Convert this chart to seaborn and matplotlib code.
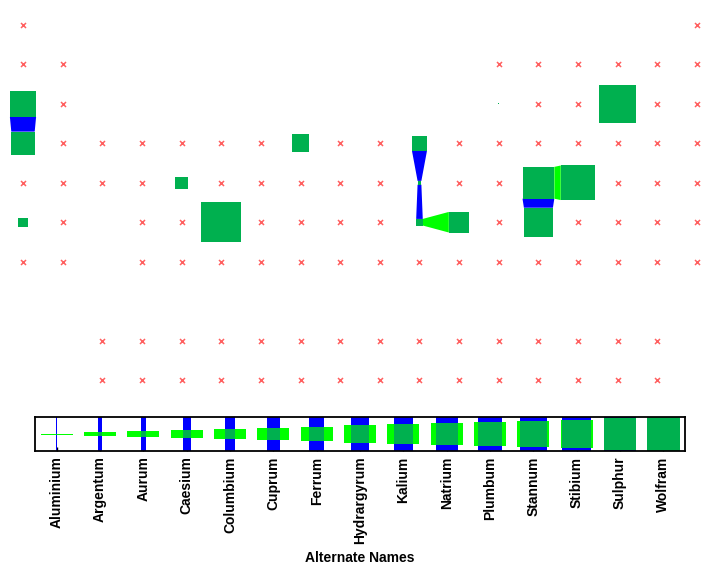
import numpy as np
import pandas as pd
import matplotlib
matplotlib.use("Agg")
import matplotlib.pyplot as plt
import seaborn as sns

# ---------------- data ----------------
# periodic-table layout: symbols per display row and their group (column)
row_symbols = {
    1: ["H", "He"],
    2: ["Li", "Be", "B", "C", "N", "O", "F", "Ne"],
    3: ["Na", "Mg", "Al", "Si", "P", "S", "Cl", "Ar"],
    4: ["K", "Ca", "Sc", "Ti", "V", "Cr", "Mn", "Fe", "Co", "Ni", "Cu", "Zn",
        "Ga", "Ge", "As", "Se", "Br", "Kr"],
    5: ["Rb", "Sr", "Y", "Zr", "Nb", "Mo", "Tc", "Ru", "Rh", "Pd", "Ag", "Cd",
        "In", "Sn", "Sb", "Te", "I", "Xe"],
    6: ["Cs", "Ba", "Hf", "Ta", "W", "Re", "Os", "Ir", "Pt", "Au", "Hg",
        "Tl", "Pb", "Bi", "Po", "At", "Rn"],
    7: ["Fr", "Ra", "Rf", "Db", "Sg", "Bh", "Hs", "Mt", "Ds", "Rg", "Cn",
        "Nh", "Fl", "Mc", "Lv", "Ts", "Og"],
    9: ["La", "Ce", "Pr", "Nd", "Pm", "Sm", "Eu", "Gd", "Tb", "Dy", "Ho",
        "Er", "Tm", "Yb", "Lu"],
    10: ["Ac", "Th", "Pa", "U", "Np", "Pu", "Am", "Cm", "Bk", "Cf", "Es",
         "Fm", "Md", "No", "Lr"],
}
row_groups = {
    1: [1, 18],
    2: [1, 2, 13, 14, 15, 16, 17, 18],
    3: [1, 2, 13, 14, 15, 16, 17, 18],
    4: list(range(1, 19)),
    5: list(range(1, 19)),
    6: [1, 2] + list(range(4, 19)),
    7: [1, 2] + list(range(4, 19)),
    9: list(range(3, 18)),
    10: list(range(3, 18)),
}

alt_names = ["Aluminium", "Argentum", "Aurum", "Caesium", "Columbium", "Cuprum",
             "Ferrum", "Hydrargyrum", "Kalium", "Natrium", "Plumbum", "Stannum",
             "Stibium", "Sulphur", "Wolfram"]
alt_symbols = ["Al", "Ag", "Au", "Cs", "Nb", "Cu", "Fe", "Hg", "K", "Na", "Pb",
               "Sn", "Sb", "S", "W"]
alt_rank = [0, 1, 2, 3, 4, 5, 6, 7, 8, 9, 10, 11, 12, 13, 14]

# ---------------- tables ----------------
recs = []
for r, syms in row_symbols.items():
    for s, g in zip(syms, row_groups[r]):
        recs.append((s, g, r))
elements = pd.DataFrame(recs, columns=["symbol", "group", "row"])
alt = pd.DataFrame({"name": alt_names, "symbol": alt_symbols, "rank": alt_rank})
alt = alt.merge(elements, on="symbol")
plain = elements[~elements["symbol"].isin(alt_symbols)]

GREEN = "#00b04f"
BLUE = "#0000ff"
LIME = "#00ff00"
RED = "#ff3838"


def side_px(rank):
    return 2.8 * rank + 1.0


LEG_SCALE = 0.83

# ---------------- figure ----------------
sns.set_theme(style="white")
plt.rcParams["font.family"] = ["Liberation Sans", "DejaVu Sans"]
plt.rcParams["text.color"] = "black"
plt.rcParams["axes.labelcolor"] = "black"
plt.rcParams["xtick.color"] = "black"
plt.rcParams["xtick.labelcolor"] = "black"

W, H = 720, 568
fig = plt.figure(figsize=(W / 100, H / 100), dpi=100)
fig.patch.set_facecolor("white")

ax = fig.add_axes([0, 168 / H, 1, 400 / H])
XL = (0.42, 18.58)
YL = (10.507, 0.366)
ax.set_xlim(*XL)
ax.set_ylim(*YL)
ux = W / (XL[1] - XL[0])           # px per data unit, x
uy = 400 / (YL[0] - YL[1])         # px per data unit, y

# red crosses for elements without an alternate name
sns.scatterplot(data=plain, x="group", y="row", marker="x", color=RED,
                s=13, linewidth=1.1, alpha=0.8, legend=False, ax=ax)

# connectors between adjacent elements with alternate names
pos = {row.symbol: (row.group, row.row, side_px(row.rank)) for row in alt.itertuples()}
for a in alt_symbols:
    ga, ra, sa = pos[a]
    for b in alt_symbols:
        gb, rb, sb = pos[b]
        if ga == gb and rb == ra + 1:       # vertical neighbour -> blue
            ha, hb = sa / 2 / ux, sb / 2 / ux
            ya, yb = ra + sa / 2 / uy, rb - sb / 2 / uy
            ax.fill([ga - ha, ga + ha, gb + hb, gb - hb], [ya, ya, yb, yb],
                    color=BLUE, lw=0, zorder=2)
        if ra == rb and gb == ga + 1:       # horizontal neighbour -> lime
            va, vb = sa / 2 / uy, sb / 2 / uy
            xa, xb = ga + sa / 2 / ux, gb - sb / 2 / ux
            ax.fill([xa, xa, xb, xb], [ra - va, ra + va, rb + vb, rb - vb],
                    color=LIME, lw=0, zorder=2)

# green squares sized by rank
sizes_main = {r: (side_px(r) * 0.72) ** 2 for r in alt_rank}
sns.scatterplot(data=alt, x="group", y="row", size="rank", sizes=sizes_main,
                marker="s", color=GREEN, linewidth=0, legend=False, ax=ax, zorder=3)
ax.set_xlim(*XL)
ax.set_ylim(*YL)
ax.set_axis_off()

# ---------------- legend axis ----------------
L0, L1, T0, T1 = 35, 685, 417, 451
lax = fig.add_axes([L0 / W, (H - T1) / H, (L1 - L0) / W, (T1 - T0) / H])
n = len(alt_names)
lax.set_xlim(-0.5, n - 0.5)
lax.set_ylim(-0.5, 0.5)
lux = (L1 - L0) / n
luy = (T1 - T0)
leg_side = np.array([side_px(r) * LEG_SCALE for r in alt_rank])
leg_side = np.maximum(leg_side, 1.0)

lax.bar(alt_rank, height=1.0, bottom=-0.5, width=leg_side / lux, color=BLUE,
        linewidth=0, zorder=1)
lax.bar(alt_rank, height=leg_side / luy, bottom=-leg_side / luy / 2,
        width=32 / lux, color=LIME, linewidth=0, zorder=2)
sizes_leg = {r: (s * 0.72) ** 2 for r, s in zip(alt_rank, leg_side)}
leg_df = pd.DataFrame({"rank": alt_rank, "y": [0.0] * n})
sns.scatterplot(data=leg_df, x="rank", y="y", size="rank", sizes=sizes_leg,
                marker="s", color=GREEN, linewidth=0, legend=False, ax=lax, zorder=3)
lax.set_xlim(-0.5, n - 0.5)
lax.set_ylim(-0.5, 0.5)
lax.set_xticks(alt_rank)
lax.set_xticklabels(alt_names, rotation=90, fontsize=10, fontweight="bold",
                    color="black")
lax.set_yticks([])
lax.set_ylabel("")
lax.set_xlabel("Alternate Names", fontsize=10, fontweight="bold", labelpad=5,
               color="black")
lax.tick_params(axis="x", direction="in", length=3, width=1, color="black",
                pad=4, bottom=True, top=False)
for sp in lax.spines.values():
    sp.set_visible(True)
    sp.set_color("black")
    sp.set_linewidth(1.3)
    sp.set_zorder(5)

fig.savefig("out.png", dpi=100, facecolor="white")
